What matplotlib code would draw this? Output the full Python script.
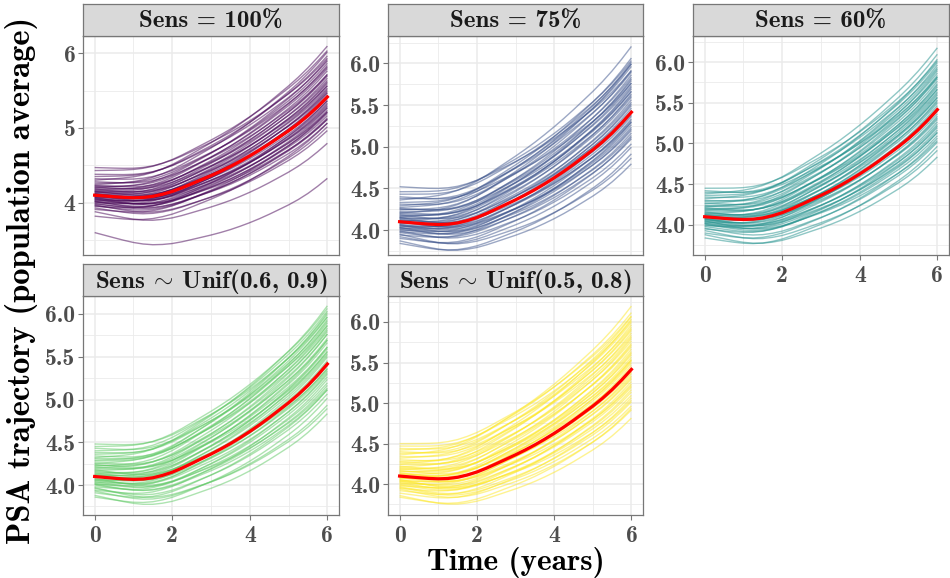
import numpy as np
import matplotlib.pyplot as plt
from matplotlib.ticker import MultipleLocator

plt.rcParams['font.family'] = 'cmb10'
plt.rcParams['mathtext.fontset'] = 'cm'
plt.rcParams['axes.unicode_minus'] = False
plt.rcParams['axes.formatter.use_mathtext'] = False

# population-average PSA trajectory (red curve), years 0..6 by quarter year
time = [0, 0.25, 0.5, 0.75, 1, 1.25, 1.5, 1.75, 2, 2.25, 2.5, 2.75, 3,
        3.25, 3.5, 3.75, 4, 4.25, 4.5, 4.75, 5, 5.25, 5.5, 5.75, 6]
mean_psa = [4.100, 4.090, 4.080, 4.071, 4.066, 4.070, 4.085, 4.113, 4.150,
            4.198, 4.252, 4.307, 4.362, 4.421, 4.484, 4.553, 4.626, 4.704,
            4.787, 4.874, 4.962, 5.058, 5.165, 5.285, 5.415]

titles = ['Sens = 100%', 'Sens = 75%', 'Sens = 60%',
          r'Sens $\!{\sim}\!$ Unif(0.6, 0.9)', r'Sens $\!{\sim}\!$ Unif(0.5, 0.8)']
colors = ['#440154', '#3B528B', '#21908C', '#5DC863', '#FDE725']

# per-simulation offsets from the average curve (hundredths), at year 0 and year 6
start_100 = [-28, -22, -19, -17, -15, -14, -13, -12, -11, -10,
             -9, -8, -8, -7, -6, -5, -5, -4, -3, -3,
             -2, -1, -1, 0, 0, 1, 2, 2, 3, 4,
             5, 5, 6, 7, 8, 9, 10, 11, 12, 13,
             14, 16, 18, 20, 22, 25, 28, 33, 37, -50]
end_100 = [-35, -62, -20, -40, -5, -28, -45, -15, -30, 5,
           -22, -10, -35, 10, -18, -25, 0, -8, 15, -30,
           -12, 20, -5, 8, -20, 25, 2, -14, 30, 12,
           -2, 35, 18, 42, 6, 28, 50, 15, 38, 22,
           60, 45, 30, 68, 40, 55, 48, 62, 52, -109]

start_75 = [-26, -23, -20, -18, -16, -15, -13, -12, -11, -10,
            -9, -8, -7, -7, -6, -5, -4, -4, -3, -2,
            -1, -1, 0, 1, 1, 2, 3, 4, 5, 5,
            6, 7, 8, 9, 10, 11, 12, 14, 15, 17,
            19, 21, 23, 26, 28, 30, 33, 36, 42, 16]
end_75 = [-50, -62, -30, -42, -12, -55, -25, -8, -38, 0,
          -20, 10, -32, -15, 15, -5, -28, 5, -18, 22,
          -10, 30, 8, -22, 40, 12, -3, 28, 18, -12,
          45, 35, 2, 25, 58, 20, 38, 50, 32, 60,
          65, 42, 55, 79, 48, 35, 58, 62, 50, 25]

start_60 = [-26, -22, -20, -17, -15, -14, -12, -11, -10, -9,
            -8, -8, -7, -6, -5, -5, -4, -3, -2, -2,
            -1, 0, 0, 1, 2, 3, 3, 4, 5, 6,
            7, 8, 9, 10, 11, 12, 13, 14, 16, 17,
            19, 20, 22, 24, 26, 28, 30, 32, 35, -3]
end_60 = [-45, -58, -35, -50, -20, -40, -28, 5, -15, -32,
          -8, -25, 12, -18, 0, -38, 18, -10, 8, -22,
          25, -5, 15, 32, -12, 20, 2, 40, 10, -2,
          28, 48, 22, 35, 15, 55, 30, 42, 62, 25,
          50, 38, 68, 45, 58, 76, 52, 40, 60, -28]

start_u69 = [-24, -22, -19, -17, -16, -14, -13, -12, -10, -9,
             -9, -8, -7, -6, -5, -4, -4, -3, -2, -1,
             0, 0, 1, 2, 2, 3, 4, 5, 6, 7,
             8, 9, 10, 11, 12, 13, 15, 16, 18, 19,
             21, 22, 24, 26, 28, 30, 33, 35, 38, 14]
end_u69 = [-40, -58, -30, -48, -18, -35, -52, -10, -25, 2,
           -30, -15, 8, -22, -5, 15, -12, 4, -28, 20,
           -8, 10, 28, -2, 18, 35, 0, 25, 12, 40,
           -6, 30, 45, 20, 52, 35, 60, 28, 48, 55,
           42, 68, 38, 58, 50, 62, 45, 65, 55, 14]

start_u58 = [-26, -24, -21, -18, -16, -15, -13, -12, -11, -10,
             -9, -8, -7, -6, -6, -5, -4, -3, -2, -2,
             -1, 0, 1, 1, 2, 3, 4, 5, 6, 7,
             8, 9, 10, 11, 12, 14, 15, 17, 18, 20,
             22, 24, 26, 28, 30, 32, 34, 37, 40, -14]
end_u58 = [-48, -60, -35, -25, -50, -15, -40, -5, -28, -18,
           5, -32, -10, 12, -22, 0, -38, 20, -12, 8,
           25, -3, 15, -20, 32, 10, -8, 38, 22, 2,
           45, 18, 30, 55, 12, 40, 62, 28, 50, 35,
           65, 48, 78, 58, 42, 70, 52, 60, 66, -45]

starts = [start_100, start_75, start_60, start_u69, start_u58]
ends = [end_100, end_75, end_60, end_u69, end_u58]
ylims = [(3.30, 6.23), (3.70, 6.33), (3.63, 6.32), (3.65, 6.21), (3.62, 6.32)]
ysteps = [1.0, 0.5, 0.5, 0.5, 0.5]

W, H = 950, 578
fig = plt.figure(figsize=(W / 100, H / 100), dpi=100)

# panel boxes in pixels: left, right, top (below strip), bottom
cols = [(83, 339), (388, 643), (693, 949)]
rows = [(36, 255), (296, 515)]
strip_h = 32
edge = '#777777'

t = np.array(time)
m = np.array(mean_psa)
w = t / 6.0

for i in range(5):
    r, c = divmod(i, 3)
    x0, x1 = cols[c]
    y0, y1 = rows[r]
    ax = fig.add_axes([x0 / W, 1 - y1 / H, (x1 - x0) / W, (y1 - y0) / H])
    for s, e in zip(starts[i], ends[i]):
        ax.plot(t, m + s / 100 * (1 - w) + e / 100 * w, color=colors[i],
                alpha=0.5, lw=1.0, solid_capstyle='butt')
    ax.plot(t, m, color='#FF0000', lw=2.3, zorder=5)

    ax.set_xlim(-0.3, 6.3)
    ax.set_ylim(*ylims[i])
    ax.xaxis.set_major_locator(MultipleLocator(2))
    ax.xaxis.set_minor_locator(MultipleLocator(1))
    ax.yaxis.set_major_locator(MultipleLocator(ysteps[i]))
    ax.yaxis.set_minor_locator(MultipleLocator(ysteps[i] / 2))
    ax.grid(which='major', color='#EBEBEB', lw=1.1)
    ax.grid(which='minor', color='#EBEBEB', lw=0.6)
    ax.set_axisbelow(True)
    for sp in ax.spines.values():
        sp.set_color(edge)
        sp.set_linewidth(0.9)
    ax.tick_params(which='major', length=3.5, width=0.8, color=edge,
                   labelsize=17, labelcolor='#4D4D4D', pad=2)
    ax.tick_params(axis='x', pad=3.5)
    ax.tick_params(which='minor', length=0)
    if i < 2:
        ax.tick_params(axis='x', labelbottom=False, length=0)

    # facet strip
    sax = fig.add_axes([x0 / W, 1 - y0 / H, (x1 - x0) / W, strip_h / H])
    sax.set_facecolor('#D9D9D9')
    sax.set_xticks([])
    sax.set_yticks([])
    for sp in sax.spines.values():
        sp.set_color(edge)
        sp.set_linewidth(0.9)
    sax.text(0.5, 0.45, titles[i], ha='center', va='center', fontsize=18,
             color='#1A1A1A', transform=sax.transAxes)

fig.text(516 / W, 1 - 570 / H, 'Time (years)', ha='center', va='baseline', fontsize=22.5)
fig.text(22 / W, 1 - 280 / H, 'PSA trajectory (population average)',
         ha='center', va='center', rotation=90, fontsize=23.5)

fig.savefig('out.png', dpi=100)
